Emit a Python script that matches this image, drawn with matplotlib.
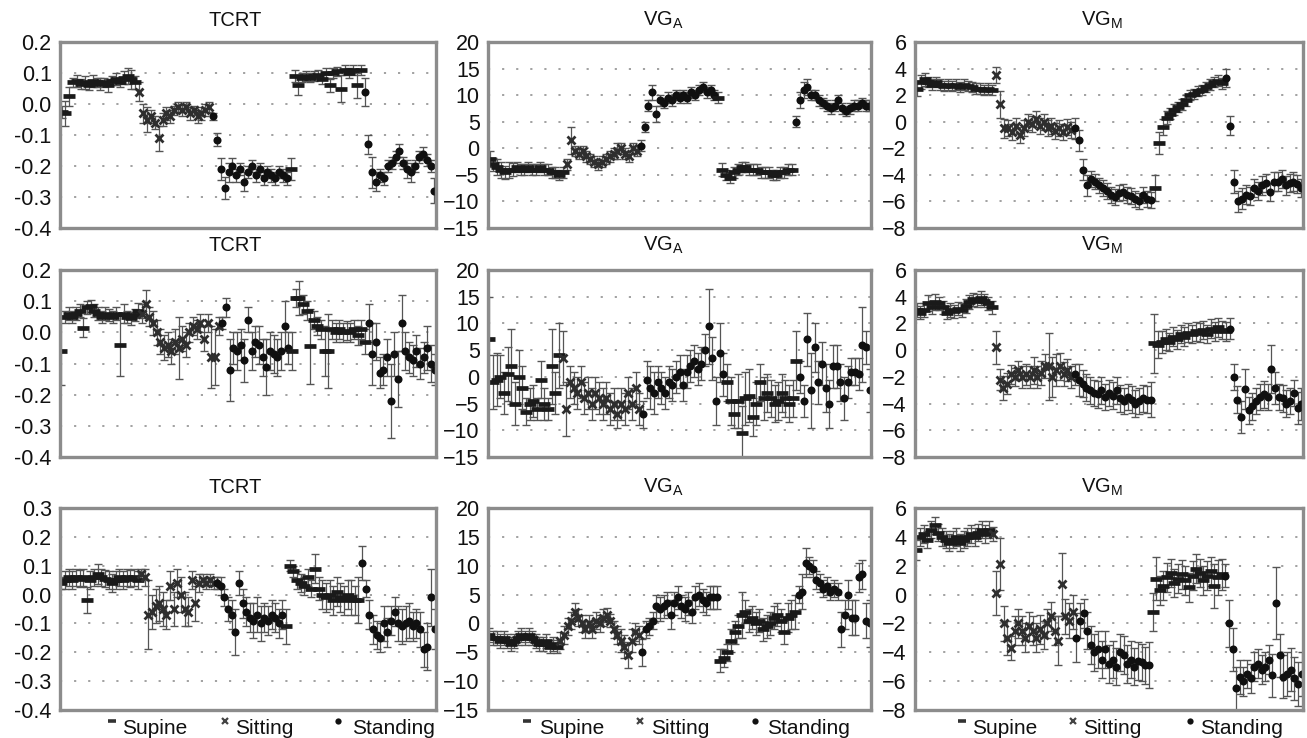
import matplotlib
matplotlib.use("Agg")
import matplotlib.pyplot as plt
from matplotlib.lines import Line2D
from matplotlib.ticker import FormatStrFormatter
import numpy as np

plt.rcParams['font.family'] = ['Liberation Sans', 'DejaVu Sans']
plt.rcParams['mathtext.fontset'] = 'custom'
plt.rcParams['mathtext.rm'] = 'Liberation Sans'

# ---------------- data ----------------
POSTURES = ["Supine", "Sitting", "Standing", "Supine", "Standing"]
TITLES = ["TCRT", "VG$_\\mathregular{A}$", "VG$_\\mathregular{M}$"]
LEGEND_LABELS = ["Supine", "Sitting", "Standing"]

YTICKS_TCRT_A = [-0.4, -0.3, -0.2, -0.1, 0.0, 0.1, 0.2]
YTICKS_TCRT_B = [-0.4, -0.3, -0.2, -0.1, 0.0, 0.1, 0.2, 0.3]
YTICKS_VGA = [-15, -10, -5, 0, 5, 10, 15, 20]
YTICKS_VGM = [-8, -6, -4, -2, 0, 2, 4, 6]

# Row 1
R1_TCRT_VAL = [
    [-0.025, -0.03, 0.025, 0.07, 0.075, 0.065, 0.07, 0.06, 0.075, 0.07, 0.065, 0.07, 0.06, 0.075, 0.08, 0.07, 0.085, 0.09, 0.08, 0.07],
    [0.04, -0.03, -0.05, -0.04, -0.06, -0.11, -0.05, -0.03, -0.04, -0.02, -0.01, -0.02, -0.01, -0.03, -0.02, -0.04, -0.03, -0.02, -0.01],
    [-0.04, -0.115, -0.21, -0.27, -0.22, -0.2, -0.23, -0.21, -0.25, -0.22, -0.2, -0.23, -0.21, -0.24, -0.22, -0.23, -0.24, -0.22, -0.23, -0.24],
    [-0.21, 0.09, 0.06, 0.085, 0.09, 0.085, 0.09, 0.095, 0.08, 0.1, 0.06, 0.1, 0.105, 0.05, 0.11, 0.1, 0.11, 0.06, 0.11],
    [0.04, -0.13, -0.22, -0.25, -0.23, -0.24, -0.2, -0.19, -0.17, -0.15, -0.19, -0.21, -0.22, -0.2, -0.17, -0.16, -0.18, -0.2, -0.28],
]
R1_TCRT_ERR = [
    [0.02, 0.04, 0.03, 0.015, 0.02, 0.015, 0.02, 0.015, 0.02, 0.015, 0.02, 0.015, 0.02, 0.015, 0.02, 0.015, 0.02, 0.025, 0.03, 0.02],
    [0.03, 0.03, 0.04, 0.02, 0.02, 0.04, 0.02, 0.02, 0.02, 0.015, 0.015, 0.02, 0.015, 0.02, 0.015, 0.02, 0.02, 0.02, 0.015],
    [0.01, 0.02, 0.035, 0.035, 0.03, 0.025, 0.02, 0.02, 0.03, 0.02, 0.02, 0.02, 0.02, 0.02, 0.02, 0.02, 0.02, 0.02, 0.02, 0.02],
    [0.035, 0.02, 0.03, 0.015, 0.015, 0.015, 0.015, 0.015, 0.015, 0.015, 0.02, 0.015, 0.015, 0.045, 0.015, 0.015, 0.015, 0.04, 0.015],
    [0.045, 0.03, 0.05, 0.03, 0.02, 0.02, 0.02, 0.02, 0.02, 0.02, 0.02, 0.03, 0.03, 0.02, 0.02, 0.02, 0.02, 0.02, 0.04],
]
R1_VGA_VAL = [
    [-2, -3, -3.5, -4, -4.5, -4, -4, -3.5, -4, -4, -3.5, -4, -4, -3.5, -4, -4, -4.5, -4.5, -5, -4.5],
    [-3, 1.5, -0.5, -1, -0.5, -1.5, -2, -2.5, -3, -2.5, -2, -1.5, -1, -0.5, 0, -1, -1.5, 0, -0.5],
    [0.5, 4, 8, 10.5, 6.5, 9, 8.5, 9.5, 9, 10, 9.5, 10, 9.5, 10.5, 10, 11, 11.5, 10.5, 11, 10],
    [9.5, -4, -5, -5.5, -4.5, -4, -3.5, -3.5, -4, -4, -4, -4.5, -4.5, -4.5, -5, -5, -4.5, -4.5, -4, -4],
    [5, 9, 11, 11.5, 10, 10, 9, 8.5, 8, 7.5, 8, 9, 7.5, 7, 7.5, 8, 8, 8.5, 8, 8],
]
R1_VGA_ERR = [
    [1.5, 1.2, 1.5, 1.5, 1.2, 1.5, 1.2, 1, 1, 1, 1, 1, 1, 1, 1, 1, 1, 1, 1, 1],
    [1, 2.5, 1, 1, 1, 1, 1, 1, 1, 1, 1, 1, 1, 1.5, 1, 1, 1, 1, 1],
    [1, 1, 1, 1.5, 1.5, 1, 1, 1, 1, 1, 1, 1, 1, 1, 1, 1, 1, 1, 1, 1],
    [1, 1.2, 1, 1, 1, 1, 1, 1, 1, 1, 1, 1, 1, 1, 1, 1, 1, 1, 1, 1],
    [1, 1.5, 1.5, 1.5, 1, 1, 1, 1, 1, 1, 1, 1, 1, 1, 1, 1, 1, 1, 1, 1],
]
R1_VGM_VAL = [
    [2.5, 3, 3.2, 3, 2.8, 3, 2.8, 2.7, 2.8, 2.7, 2.8, 2.6, 2.8, 2.7, 2.6, 2.5, 2.5, 2.4, 2.5, 2.4],
    [3.5, 1.3, -0.5, -0.5, -0.8, -0.3, -1, -0.5, 0, -0.2, 0.2, -0.3, 0, -0.5, -0.3, -0.7, -0.5, -0.8, -0.4, -0.6],
    [-0.5, -1.4, -3.6, -4.8, -4.3, -4.5, -4.8, -5, -5.2, -5.5, -5.7, -5.4, -5.3, -5.5, -5.6, -5.8, -6, -5.5, -5.8, -5.9],
    [-5, -1.6, -0.4, 0.3, 0.6, 0.9, 1.1, 1.3, 1.6, 2, 2.1, 2.3, 2.4, 2.6, 2.8, 3.0, 3.1, 2.9],
    [3.3, -0.3, -4.5, -6, -5.8, -5.5, -5.6, -5, -5.2, -4.8, -4.6, -5.3, -4.5, -4.5, -4.3, -4.8, -4.6, -4.5, -4.7, -5],
]
R1_VGM_ERR = [
    [0.6, 0.5, 0.5, 0.4, 0.4, 0.4, 0.4, 0.4, 0.4, 0.4, 0.4, 0.4, 0.4, 0.4, 0.4, 0.4, 0.4, 0.4, 0.4, 0.4],
    [0.6, 1, 0.7, 0.6, 0.6, 0.6, 0.6, 0.6, 0.6, 0.6, 0.6, 0.6, 0.6, 0.6, 0.6, 0.6, 0.6, 0.6, 0.6, 0.6],
    [0.8, 0.8, 0.8, 0.8, 0.6, 0.6, 0.6, 0.6, 0.6, 0.6, 0.6, 0.6, 0.6, 0.6, 0.6, 0.6, 0.6, 0.6, 0.6, 0.6],
    [1, 0.8, 0.6, 0.5, 0.4, 0.4, 0.4, 0.4, 0.4, 0.4, 0.4, 0.4, 0.4, 0.4, 0.4, 0.4, 0.4, 0.4],
    [0.7, 0.7, 0.9, 0.8, 0.8, 0.7, 0.7, 0.7, 0.7, 0.7, 0.7, 0.7, 0.7, 0.7, 0.7, 0.7, 0.7, 0.7, 0.7, 0.7],
]

# Row 2
R2_TCRT_VAL = [
    [-0.06, 0.05, 0.06, 0.05, 0.06, 0.07, 0.015, 0.08, 0.085, 0.07, 0.06, 0.05, 0.06, 0.055, 0.05, 0.06, -0.04, 0.06, 0.05, 0.045, 0.055, 0.07],
    [0.06, 0.09, 0.05, 0.03, 0.0, -0.03, -0.05, -0.04, -0.06, -0.03, -0.05, -0.02, -0.04, 0.0, 0.02, 0.01, 0.03, -0.02, 0.03, -0.08, -0.08, 0.02],
    [0.03, 0.08, -0.12, -0.05, -0.06, -0.04, -0.09, 0.04, -0.06, -0.03, -0.04, -0.08, -0.11, -0.06, -0.07, -0.08, -0.06, 0.02, -0.05],
    [-0.06, 0.11, 0.11, 0.09, 0.07, -0.045, 0.04, 0.02, 0.01, -0.06, -0.06, 0.01, 0.0, 0.01, 0.0, 0.005, 0.0, 0.01, -0.01, 0.01, -0.03],
    [0.03, -0.07, -0.03, -0.13, -0.12, -0.08, -0.22, -0.07, -0.15, 0.03, -0.06, -0.08, -0.09, -0.06, -0.1, -0.08, -0.05, -0.1, -0.12],
]
R2_TCRT_ERR = [
    [0.11, 0.02, 0.02, 0.02, 0.02, 0.02, 0.03, 0.02, 0.02, 0.02, 0.02, 0.02, 0.02, 0.02, 0.02, 0.02, 0.1, 0.03, 0.02, 0.02, 0.02, 0.025],
    [0.03, 0.045, 0.03, 0.04, 0.04, 0.04, 0.04, 0.04, 0.04, 0.04, 0.1, 0.04, 0.04, 0.03, 0.03, 0.03, 0.03, 0.04, 0.03, 0.1, 0.09, 0.03],
    [0.02, 0.03, 0.1, 0.05, 0.06, 0.05, 0.07, 0.04, 0.06, 0.05, 0.06, 0.06, 0.09, 0.06, 0.06, 0.06, 0.06, 0.08, 0.05],
    [0.06, 0.03, 0.055, 0.03, 0.03, 0.12, 0.03, 0.03, 0.03, 0.08, 0.12, 0.03, 0.03, 0.03, 0.03, 0.03, 0.03, 0.03, 0.03, 0.03, 0.04],
    [0.06, 0.1, 0.06, 0.05, 0.05, 0.06, 0.12, 0.07, 0.09, 0.09, 0.06, 0.05, 0.05, 0.05, 0.05, 0.05, 0.07, 0.06, 0.05],
]
R2_VGA_VAL = [
    [7, -1, -0.5, 0, -3, 0.5, 2, -5, 0, -2, -6.5, -5, -4.5, -6, -0.5, -5, -6, 2, -3, 4],
    [3.5, -6, -1, -2, -3, -1, -4, -3, -5, -3, -4, -5, -4, -6, -5, -7, -5, -6, -3, -5, -2, -6],
    [-7, -0.5, -2, -3, -1, -2, -3, -1, -1.5, 0, 1, -1.5, 1, 2, 3, 1.5, 2.5, 5, 9.5, 3.5, -4.5, 4.5, 0.5],
    [-1, -4.5, -7, -4.5, -10.5, -4, -3.5, -7.5, -5, -1, -4, -3, -4, -5, -4.5, -3, -4, -5, -4, 3],
    [0, -4.5, 7, -2.5, 5.5, -1, 2.5, -2, -5, 2, 2, -1, -4, -1, 1, 1, 0.5, 6, 5.5, -2.5],
]
R2_VGA_ERR = [
    [8, 5, 5, 4, 4, 5, 7, 4, 5, 4, 2.5, 3, 3, 2, 3.5, 3, 2, 7, 4, 6],
    [5, 5, 3, 3, 3, 3, 3, 3, 3, 3, 3, 3, 3, 3, 3, 2.5, 3, 3, 3, 3, 3, 3],
    [2.5, 3.5, 4, 4, 3, 3, 3, 3, 3, 3, 3, 3, 3, 3, 3, 3, 3, 3, 7, 4, 4.5, 5.5, 4],
    [3.5, 4.5, 2.5, 5, 5, 5, 5, 3.5, 4, 3.5, 4, 3.5, 3.5, 3.5, 3.5, 3.5, 3.5, 3.5, 3.5, 5.5],
    [3, 3, 5, 7, 4.5, 4, 4, 4.5, 4.5, 4, 4, 3.5, 4, 3, 2.5, 2.5, 3, 7, 3, 4],
]
R2_VGM_VAL = [
    [3, 2.8, 3, 3.5, 3.2, 3.6, 3.5, 3.2, 2.8, 3, 2.9, 3.1, 3.0, 3.3, 3.6, 3.8, 3.7, 3.9, 3.7, 3.5, 3.2],
    [0.2, -2.2, -2.8, -2.5, -1.8, -2, -1.5, -2, -1.8, -2, -1.5, -2, -1.7, -1.2, -1.2, -2, -1.5, -1.2, -1.8, -1.5, -2],
    [-1.8, -2.2, -2.5, -2.8, -3, -3.2, -3.3, -3, -3.5, -3.2, -3.4, -3, -3.6, -3.8, -3.5, -3.7, -4, -3.8, -3.6, -3.7, -3.7],
    [0.5, 0.4, 0.6, 0.8, 0.6, 1, 0.8, 1.2, 1.0, 1.3, 1.2, 1.4, 1.3, 1.5, 1.2, 1.6, 1.4, 1.7, 1.5, 1.4],
    [1.6, -2, -3.7, -5, -2.9, -4.5, -4.2, -3.8, -3.5, -3.3, -3.5, -1.4, -2.8, -3.5, -3.6, -4, -3.8, -3.2, -4.3, -4],
]
R2_VGM_ERR = [
    [0.5, 0.5, 0.5, 0.6, 0.5, 0.6, 0.5, 0.5, 0.5, 0.5, 0.5, 0.5, 0.5, 0.5, 0.5, 0.5, 0.5, 0.5, 0.5, 0.5, 0.5],
    [1.2, 0.8, 0.9, 0.8, 0.7, 0.7, 0.7, 0.8, 0.8, 0.8, 1.0, 0.8, 0.9, 0.9, 2.5, 1.5, 1.2, 1.0, 0.9, 0.8, 0.8],
    [0.8, 1.2, 1, 1, 1, 1, 1, 1, 1, 1, 1, 1, 1, 1, 1, 1, 1, 1, 1, 1, 1.3],
    [2.2, 1, 0.8, 0.8, 0.7, 0.7, 0.7, 0.7, 0.7, 0.7, 0.7, 0.7, 0.7, 0.7, 0.7, 0.7, 0.7, 0.7, 0.7, 0.7],
    [0.8, 1, 1, 1.2, 1.5, 1, 1, 1, 1, 1, 1, 1.8, 1.2, 1, 1, 1, 1, 1, 1.2, 1.2],
]

# Row 3
R3_TCRT_VAL = [
    [0.04, 0.05, 0.06, 0.05, 0.06, 0.055, 0.06, -0.02, 0.05, 0.06, 0.07, 0.06, 0.055, 0.05, 0.04, 0.05, 0.06, 0.05, 0.06, 0.055, 0.06, 0.05],
    [0.07, 0.06, -0.07, -0.06, -0.04, -0.03, -0.05, -0.07, 0.03, -0.05, 0.04, 0.0, -0.05, -0.06, 0.05, -0.03, 0.04, 0.05, 0.04, 0.05, 0.04],
    [0.04, 0.03, -0.01, -0.05, -0.07, -0.13, 0.04, -0.03, -0.06, -0.08, -0.09, -0.07, -0.1, -0.08, -0.09, -0.07, -0.08, -0.1, -0.07],
    [-0.11, 0.1, 0.08, 0.05, 0.04, 0.03, 0.06, 0.02, 0.09, 0.02, 0.0, -0.01, 0.0, -0.02, 0.01, -0.01, -0.02, 0.0, -0.01, -0.02, -0.02],
    [0.11, 0.02, -0.07, -0.12, -0.14, -0.15, -0.1, -0.13, -0.09, -0.06, -0.1, -0.11, -0.1, -0.09, -0.11, -0.1, -0.12, -0.19, -0.18, -0.01, -0.12],
]
R3_TCRT_ERR = [
    [0.02, 0.03, 0.03, 0.03, 0.03, 0.03, 0.03, 0.045, 0.03, 0.03, 0.035, 0.03, 0.03, 0.03, 0.03, 0.03, 0.03, 0.03, 0.03, 0.03, 0.03, 0.03],
    [0.02, 0.03, 0.12, 0.06, 0.06, 0.06, 0.06, 0.05, 0.05, 0.06, 0.05, 0.06, 0.06, 0.05, 0.03, 0.06, 0.03, 0.02, 0.02, 0.02, 0.02],
    [0.02, 0.03, 0.03, 0.04, 0.05, 0.08, 0.04, 0.05, 0.05, 0.05, 0.06, 0.06, 0.06, 0.05, 0.05, 0.05, 0.05, 0.05, 0.05],
    [0.06, 0.02, 0.02, 0.03, 0.03, 0.03, 0.03, 0.03, 0.05, 0.04, 0.05, 0.05, 0.05, 0.05, 0.05, 0.05, 0.05, 0.05, 0.06, 0.05, 0.08],
    [0.06, 0.03, 0.05, 0.05, 0.05, 0.05, 0.06, 0.05, 0.05, 0.05, 0.06, 0.06, 0.06, 0.06, 0.05, 0.05, 0.06, 0.06, 0.08, 0.1, 0.07],
]
R3_VGA_VAL = [
    [-2, -2.5, -2.5, -3, -2.5, -3, -3.5, -3, -2.5, -2, -2.5, -2, -2.5, -3, -3.5, -3.5, -3, -4, -3.5, -4],
    [-3, -2, -0.5, 0.5, 2, 1, 0, -1, 0, -1, 0.5, 0, 1, 1.5, 0.5, -1, -2, -3, -4, -5.5, -3, -1.5, -2],
    [-5, -1, -0.5, 0.5, 3, 2.5, 3, 3.5, 1.5, 3.5, 4.5, 3, 2.5, 3.5, 2, 4.5, 5, 4, 3.5, 4.5, 4.5, 4.5],
    [-6.5, -6, -5, -3, -1.5, -0.5, 1.5, 2, 0.5, 1, 0, 0.5, -1, -0.5, 0, 1, 1.5, 0.5, -1.5, 1, 1.5, 2],
    [5, 5.5, 10.5, 10, 9.5, 7.5, 7, 6, 6.5, 5.5, 6, 5.5, -1, 1.5, 5, 1, 1, 8, 8.5, 0.5, 0],
]
R3_VGA_ERR = [
    [1.2, 1.2, 1.2, 1.2, 1.2, 1.2, 1.2, 1.2, 1.2, 1.2, 1.2, 1.2, 1.2, 1.2, 1.2, 1.2, 1.2, 1.2, 1.2, 1.2],
    [1.5, 1.5, 1.5, 1.5, 1.5, 1.5, 1.5, 1.5, 1.5, 1.5, 1.5, 1.5, 1.5, 1.2, 1.2, 1.5, 1.5, 2, 2, 2.2, 2, 1.5, 1.5],
    [2.3, 1.5, 1.5, 1.5, 2, 2, 2, 2, 2.5, 2, 2, 2, 2, 2, 2, 2, 2, 2, 2, 2, 2, 2],
    [2, 1.5, 1.5, 2, 2, 2, 4, 2, 2, 2, 2, 2, 2, 2, 2, 2, 2, 2, 2, 2.5, 2.5, 3],
    [1.5, 3, 2.5, 1.5, 1.5, 1.5, 1.5, 1.5, 1.5, 1.5, 1.5, 1.5, 3, 2.5, 2.5, 3, 3, 2.5, 2.5, 3, 4],
]
R3_VGM_VAL = [
    [3.1, 4, 4.2, 3.8, 4.5, 4.8, 4.3, 4.0, 3.8, 3.6, 3.8, 4.0, 3.6, 3.8, 4.0, 4.2, 4.0, 4.3, 4.5, 4.2, 4.5],
    [4.2, 0.1, 2.1, -2, -3, -3.7, -2.5, -2, -2.5, -3, -2.2, -2.5, -3, -2.4, -2.8, -2, -1.5, -2.5, -3.2, 0.7, -1.5, -1.8, -1.2],
    [-3, -1.8, -1.3, -2.5, -3.5, -4, -3.8, -4.5, -3.8, -4.8, -4.5, -5, -4, -4.2, -4.8, -4.5, -5, -4.6, -4.7, -4.9, -4.9],
    [-1.2, 1.1, 0.3, 0.6, 1.2, 1.5, 0.8, 1.1, 1.4, 1.0, 0.5, 1.3, 1.8, 1.5, 1.0, 1.3, 1.6, 0.6, 1.2, 1.4],
    [1.3, -2, -3.8, -6.5, -5.7, -6, -5.5, -5.8, -5, -4.8, -5.2, -5, -4.5, -5.6, -0.6, -4.2, -5.7, -5.5, -5.2, -5.8, -6.2, -5.5],
]
R3_VGM_ERR = [
    [0.7, 0.6, 0.6, 0.6, 0.6, 0.6, 0.6, 0.6, 0.6, 0.6, 0.6, 0.6, 0.6, 0.6, 0.6, 0.6, 0.6, 0.6, 0.6, 0.6, 0.6],
    [0.5, 1.5, 1.8, 1.2, 1.2, 0.8, 1, 1, 1, 1, 1, 1, 1, 1, 1, 1, 1, 1, 1.7, 2.2, 1.2, 1.2, 1.2],
    [1.7, 1.2, 1, 1.3, 1.3, 1.3, 1.3, 1.3, 1.3, 1.3, 1.3, 1.3, 1.3, 1.3, 1.3, 1.3, 1.3, 1.3, 1.3, 1.3, 1.6],
    [1.3, 1.5, 1, 1, 1, 1, 1, 1, 1, 1, 1, 1, 1, 1, 1, 1, 1, 1.5, 1.2, 1.1],
    [0.8, 1.6, 1.5, 1.5, 1.2, 1, 1, 1, 1, 1, 1, 1, 1, 1.5, 2.5, 1.5, 1.5, 1.5, 1.5, 1.5, 1.5, 1.5],
]

# ---------------- figure ----------------
W, H = 1307, 738
fig = plt.figure(figsize=(W / 100, H / 100), dpi=100)

# axes boxes in pixels (left, top, right, bottom)
COL_X = [(60, 436), (488, 871), (915, 1303)]
ROW_Y = [(42, 228), (270, 457), (508, 710)]
TITLE_X = [235, 663, 1102]
TITLE_BASE = [26, 251, 493]

STYLE = {
    "Supine": dict(marker='_', markersize=8.5, markeredgewidth=3.4, color='#1a1a1a'),
    "Sitting": dict(marker='x', markersize=6.3, markeredgewidth=2.0, color='#2e2e2e'),
    "Standing": dict(marker='o', markersize=5.8, markeredgewidth=0, color='#101010'),
}
LEG_STYLE = {
    "Supine": dict(marker='_', markersize=6, markeredgewidth=2.6, color='#333333'),
    "Sitting": dict(marker='x', markersize=4.5, markeredgewidth=1.6, color='#444444'),
    "Standing": dict(marker='o', markersize=4.5, markeredgewidth=0, color='#111111'),
}

PANELS = [
    [(R1_TCRT_VAL, R1_TCRT_ERR, YTICKS_TCRT_A), (R1_VGA_VAL, R1_VGA_ERR, YTICKS_VGA), (R1_VGM_VAL, R1_VGM_ERR, YTICKS_VGM)],
    [(R2_TCRT_VAL, R2_TCRT_ERR, YTICKS_TCRT_A), (R2_VGA_VAL, R2_VGA_ERR, YTICKS_VGA), (R2_VGM_VAL, R2_VGM_ERR, YTICKS_VGM)],
    [(R3_TCRT_VAL, R3_TCRT_ERR, YTICKS_TCRT_B), (R3_VGA_VAL, R3_VGA_ERR, YTICKS_VGA), (R3_VGM_VAL, R3_VGM_ERR, YTICKS_VGM)],
]

for r, row in enumerate(PANELS):
    for c, (vals, errs, yt) in enumerate(row):
        x0p, x1p = COL_X[c]
        y0p, y1p = ROW_Y[r]
        ax = fig.add_axes([x0p / W, 1 - y1p / H, (x1p - x0p) / W, (y1p - y0p) / H])
        start = 0
        for post, v, e in zip(POSTURES, vals, errs):
            assert len(v) == len(e), (r, c, post, len(v), len(e))
            x = np.arange(start, start + len(v))
            ax.errorbar(x, v, yerr=e, fmt='none', ecolor='#555555', elinewidth=0.9,
                        capsize=2.6, capthick=1.0, zorder=2)
            ax.plot(x, v, linestyle='none', zorder=3, **STYLE[post])
            start += len(v)
        ax.set_xlim(-0.4, start - 0.6)
        ax.set_ylim(yt[0], yt[-1])
        ax.set_yticks(yt)
        if c == 0:
            ax.yaxis.set_major_formatter(FormatStrFormatter('%.1f'))
        ax.set_xticks([])
        ax.tick_params(axis='y', length=0, pad=6, labelsize=15.5, colors='#111111')
        ax.yaxis.grid(True, linestyle=(0, (1.2, 6.6)), color='#9a9a9a', linewidth=1.3)
        ax.set_axisbelow(True)
        for s in ax.spines.values():
            s.set_color('#8c8c8c')
            s.set_linewidth(2.4)
            s.set_zorder(5)
        fig.text(TITLE_X[c] / W, 1 - TITLE_BASE[r] / H, TITLES[c], ha='center',
                 va='baseline', fontsize=14.5, color='#111111')

# legends under bottom row
LEG_MARK_X = [(112, 225, 338), (527, 640, 755), (962, 1073, 1190)]
LEG_TEXT_X = [(122, 235, 352), (539, 651, 767), (972, 1083, 1200)]
LEG_MARK_Y = 721
LEG_TEXT_BASE = 734
for c in range(3):
    for k, lab in enumerate(LEGEND_LABELS):
        fig.add_artist(Line2D([LEG_MARK_X[c][k] / W], [1 - LEG_MARK_Y / H],
                              transform=fig.transFigure, linestyle='none', **LEG_STYLE[lab]))
        fig.text(LEG_TEXT_X[c][k] / W, 1 - LEG_TEXT_BASE / H, lab, ha='left',
                 va='baseline', fontsize=15, color='#111111')

fig.savefig('out.png', dpi=100)
